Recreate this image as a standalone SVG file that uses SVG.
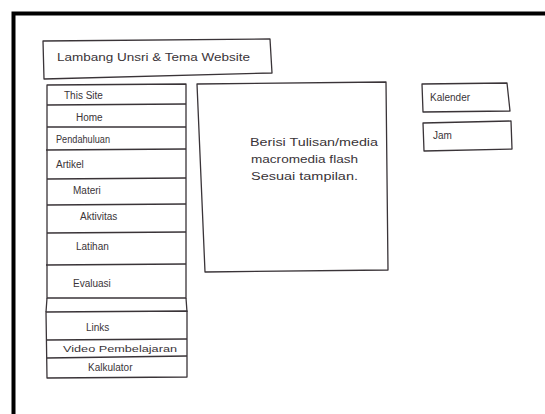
<svg xmlns="http://www.w3.org/2000/svg" width="545" height="414" viewBox="0 0 545 414">
<style>
.b{fill:none;stroke:#3a3438;stroke-width:1.3;stroke-linejoin:round}
.t{font-family:"Liberation Sans",Arial,sans-serif;font-size:10px;fill:#3a3438}
.s{font-size:9.5px}
</style>
<rect x="0" y="0" width="545" height="414" fill="#ffffff"/>
<rect id="frame" x="13.5" y="13.5" width="600" height="500" fill="none" stroke="#000" stroke-width="4"/>
<g id="header">
<polygon class="b" points="43,41 270,39 272,73 44,79"/>
<text class="t" x="57" y="61" font-size="11.5" textLength="193" lengthAdjust="spacingAndGlyphs">Lambang Unsri &amp; Tema Website</text>
</g>
<g id="menu">
<polygon class="b" points="47,85 186,84 186,298 47,298"/>
<path class="b" d="M47,105 L186,104 M47,127 L186,127 M46,150 L186,149 M47,179 L186,178 M47,205 L186,204 M47,233 L186,232 M46,265 L186,264"/>
<text class="t" x="64" y="99">This Site</text>
<text class="t" x="76" y="121">Home</text>
<text class="t" x="56" y="143" textLength="54" lengthAdjust="spacingAndGlyphs">Pendahuluan</text>
<text class="t" x="56" y="168">Artikel</text>
<text class="t" x="73" y="194">Materi</text>
<text class="t" x="80" y="220">Aktivitas</text>
<text class="t" x="76" y="250">Latihan</text>
<text class="t" x="73" y="287">Evaluasi</text>
</g>
<g id="links">
<path class="b" d="M47,298 L46,312 M186,298 L187,312"/>
<polygon class="b" points="46,312 187,311 187,377 47,378"/>
<path class="b" d="M46,340 L187,339 M47,358 L187,356"/>
<text class="t" x="86" y="331">Links</text>
<text class="t s" x="63" y="352" textLength="114" lengthAdjust="spacingAndGlyphs">Video Pembelajaran</text>
<text class="t" x="88" y="371">Kalkulator</text>
</g>
<g id="content">
<polygon class="b" points="197,84 386,82 388,270 205,272"/>
<text class="t" x="250" y="146" font-size="11" textLength="128" lengthAdjust="spacingAndGlyphs">Berisi Tulisan/media</text>
<text class="t" x="251" y="163" font-size="11" textLength="107" lengthAdjust="spacingAndGlyphs">macromedia flash</text>
<text class="t" x="251" y="180" font-size="11" textLength="107" lengthAdjust="spacingAndGlyphs">Sesuai tampilan.</text>
</g>
<g id="kalender">
<polygon class="b" points="422,84 507,83 510,111 423,112"/>
<text class="t" x="430" y="101" font-size="11">Kalender</text>
</g>
<g id="jam">
<polygon class="b" points="423,123 511,121 512,149 424,151"/>
<text class="t" x="433" y="139">Jam</text>
</g>
</svg>
